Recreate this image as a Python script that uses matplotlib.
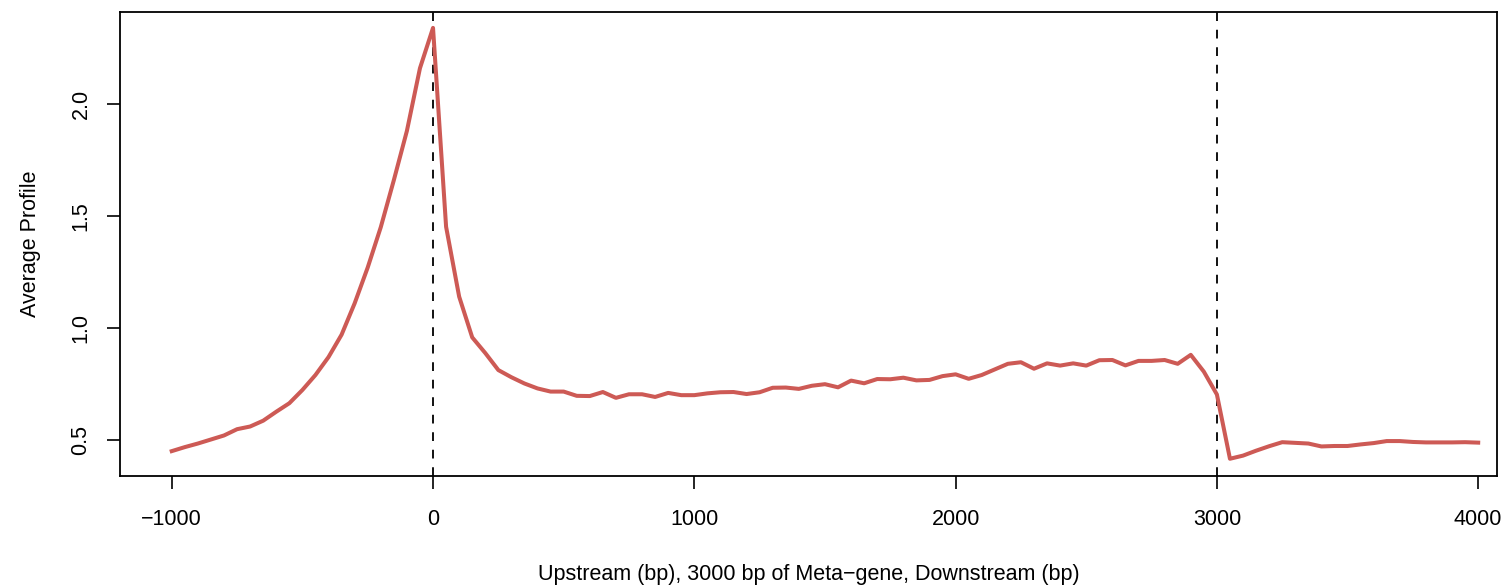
import matplotlib
matplotlib.use("Agg")
import matplotlib.pyplot as plt
import numpy as np

plt.rcParams['font.family'] = ['Liberation Sans', 'DejaVu Sans']

# bin positions (bp), 50 bp steps
positions = list(range(-1000, 4001, 50))

upstream = [0.450, 0.468, 0.484, 0.502, 0.520, 0.548, 0.560, 0.586, 0.626, 0.664,
            0.723, 0.790, 0.870, 0.970, 1.110, 1.270, 1.450, 1.660, 1.880, 2.160]
genebody = [2.340, 1.452, 1.140, 0.958, 0.888, 0.812, 0.780, 0.752, 0.730, 0.716,
            0.716, 0.697, 0.696, 0.714, 0.688, 0.704, 0.704, 0.692, 0.710, 0.700,
            0.700, 0.708, 0.713, 0.714, 0.705, 0.713, 0.733, 0.734, 0.728, 0.742,
            0.749, 0.735, 0.765, 0.753, 0.772, 0.771, 0.778, 0.766, 0.768, 0.785,
            0.793, 0.773, 0.790, 0.815, 0.840, 0.847, 0.818, 0.842, 0.832, 0.842,
            0.832, 0.856, 0.857, 0.833, 0.853, 0.853, 0.857, 0.840, 0.880, 0.805]
downstream = [0.703, 0.416, 0.430, 0.452, 0.472, 0.490, 0.487, 0.484, 0.471, 0.473,
              0.473, 0.480, 0.486, 0.495, 0.495, 0.491, 0.489, 0.489, 0.489, 0.490,
              0.488]
profile = upstream + genebody + downstream

boundaries = [0, 3000]
xticks = [-1000, 0, 1000, 2000, 3000, 4000]
yticks = [0.5, 1.0, 1.5, 2.0]

fig = plt.figure(figsize=(15.09, 5.88), dpi=100)
ax = fig.add_axes([120/1509, 1-476/588, (1497-120)/1509, (476-12)/588])

ax.plot(positions, profile, color='#CD5A55', lw=2.9, solid_joinstyle='round', zorder=3)
for b in boundaries:
    ax.axvline(b, color='#111111', lw=1.4, ls=(0, (4.5, 4.5)), zorder=2)

ax.set_xlim(-1198, 4072)
ax.set_ylim(0.339, 2.411)
ax.set_xticks(xticks)
ax.set_xticklabels([str(t).replace('-', '\u2212') for t in xticks])
ax.set_yticks(yticks)
ax.set_yticklabels([f"{t:.1f}" for t in yticks], rotation=90, va='center')

for s in ax.spines.values():
    s.set_linewidth(1.3)
ax.tick_params(axis='both', direction='out', length=9.5, width=1.2, labelsize=15.5, color='black')
ax.tick_params(axis='x', pad=14)
ax.tick_params(axis='y', pad=11)

ax.set_xlabel('Upstream (bp), 3000 bp of Meta\u2212gene, Downstream (bp)', fontsize=15.5, labelpad=25)
ax.set_ylabel('Average Profile', fontsize=15.5, labelpad=21)

fig.savefig('out.png', dpi=100)
